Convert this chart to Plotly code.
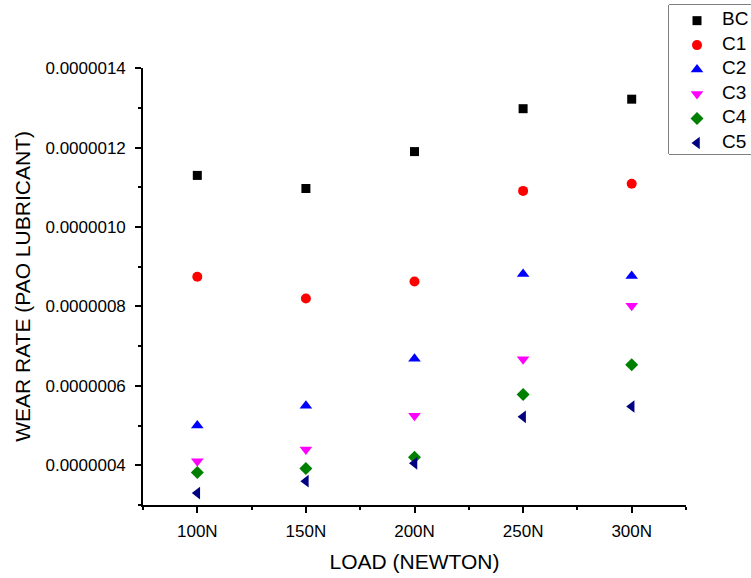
import plotly.graph_objects as go

loads = ["100N", "150N", "200N", "250N", "300N"]
series_names = ["BC", "C1", "C2", "C3", "C4", "C5"]
bc = [1.13e-6, 1.097e-6, 1.19e-6, 1.298e-6, 1.322e-6]
c1 = [8.75e-7, 8.2e-7, 8.63e-7, 1.091e-6, 1.109e-6]
c2 = [5.0e-7, 5.5e-7, 6.68e-7, 8.82e-7, 8.77e-7]
c3 = [4.1e-7, 4.4e-7, 5.25e-7, 6.67e-7, 8.02e-7]
c4 = [3.82e-7, 3.92e-7, 4.2e-7, 5.78e-7, 6.53e-7]
c5 = [3.3e-7, 3.6e-7, 4.05e-7, 5.22e-7, 5.48e-7]

values = [bc, c1, c2, c3, c4, c5]
colors = ["#000000", "#FF0000", "#0000FF", "#FF00FF", "#008000", "#000080"]
symbols = ["square", "circle", "triangle-up", "triangle-down", "diamond", "triangle-left"]
sizes = [9, 10, 11, 11, 10, 11]

W, H = 751, 578
xpos = list(range(len(loads)))
FONT = "Liberation Sans, Arial, sans-serif"

fig = go.Figure()
for name, vals, col, sym, sz in zip(series_names, values, colors, symbols, sizes):
    fig.add_trace(go.Scatter(
        x=xpos, y=vals, mode="markers", name=name, showlegend=False,
        marker=dict(symbol=sym, color=col, size=sz, opacity=1, line=dict(width=0)),
    ))

# Legend drawn on a small helper axis pair (one entry per series)
leg_idx = list(range(len(series_names)))
fig.add_trace(go.Scatter(
    x=[28] * len(series_names), y=leg_idx, mode="markers",
    marker=dict(symbol=symbols, color=colors, size=sizes, opacity=1, line=dict(width=0)),
    xaxis="x2", yaxis="y2", showlegend=False, hoverinfo="skip",
))
fig.add_trace(go.Scatter(
    x=[53] * len(series_names), y=leg_idx, mode="text",
    text=series_names, textposition="middle right",
    textfont=dict(family=FONT, size=19, color="black"),
    xaxis="x2", yaxis="y2", showlegend=False, hoverinfo="skip",
))

axis_common = dict(
    showline=True, linecolor="black", linewidth=1.5,
    ticks="outside", ticklen=6, tickwidth=1.5, tickcolor="black",
    showgrid=False, zeroline=False, mirror=False, automargin=False,
    tickfont=dict(family=FONT, size=17, color="black"),
)

px_l, px_r, px_t, px_b = 143, 686, 68, 505
leg_l, leg_t, leg_b = 669, 5, 154

fig.update_layout(
    width=W, height=H,
    margin=dict(l=0, r=0, t=0, b=0, autoexpand=False),
    paper_bgcolor="white", plot_bgcolor="white",
    font=dict(family=FONT, color="black"),
    showlegend=False,
    xaxis=dict(
        **axis_common,
        domain=[px_l / W, px_r / W],
        range=[-0.5, 4.5],
        tickvals=xpos, ticktext=loads,
        ticklabelstandoff=4,
        minor=dict(ticks="outside", ticklen=3, tickwidth=1.5, tickcolor="black",
                   tick0=-0.5, dtick=1),
        title=dict(text="LOAD (NEWTON)", font=dict(family=FONT, size=21, color="black"),
                   standoff=14),
    ),
    yaxis=dict(
        **axis_common,
        domain=[1 - px_b / H, 1 - px_t / H],
        range=[3e-7, 1.4005e-6],
        tick0=0, dtick=2e-7, tickformat=".7f",
        ticklabelstandoff=6,
        minor=dict(ticks="outside", ticklen=3, tickwidth=1.5, tickcolor="black",
                   tick0=0, dtick=1e-7),
        title=dict(text="WEAR RATE (PAO LUBRICANT)", font=dict(family=FONT, size=21, color="black"),
                   standoff=9),
    ),
    xaxis2=dict(domain=[leg_l / W, 1.0], range=[0, 82], visible=False,
                fixedrange=True, automargin=False),
    yaxis2=dict(domain=[1 - leg_b / H, 1 - leg_t / H], range=[5.45, -0.64],
                visible=False, fixedrange=True, automargin=False),
    shapes=[dict(type="rect", xref="paper", yref="paper",
                 x0=leg_l / W, x1=1.02, y0=1 - leg_b / H, y1=1 - leg_t / H,
                 line=dict(color="black", width=1), fillcolor="white", layer="below")],
)

fig.write_html("out.html")
